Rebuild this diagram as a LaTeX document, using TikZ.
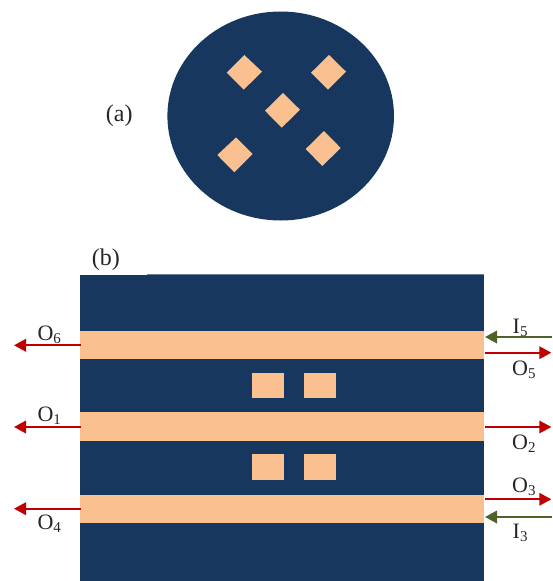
\documentclass[tikz,border=0pt]{standalone}
\usepackage{fontspec}
\setmainfont{Liberation Serif}
\usetikzlibrary{arrows.meta}
\definecolor{navy}{HTML}{17375E}
\definecolor{peach}{HTML}{FAC090}
\definecolor{redarr}{HTML}{C00000}
\definecolor{greenarr}{HTML}{4F6228}
\newcommand{\portsub}[1]{\raisebox{-3pt}{\fontsize{15}{16}\selectfont #1}}
\tikzset{
  x=1pt,y=-1pt,
  body/.style={fill=navy,draw=none},
  metal/.style={fill=peach,draw=none},
  redline/.style={draw=redarr,line width=2pt,-{Triangle[length=12pt,width=12.5pt]}},
  greenline/.style={draw=greenarr,line width=2pt,-{Triangle[length=12pt,width=12.5pt]}},
  lab/.style={font=\fontsize{24}{26}\selectfont,inner sep=0pt,text=black!85,anchor=base west},
  portlab/.style={font=\fontsize{22}{24}\selectfont,inner sep=0pt,text=black!85,anchor=base west}
}
\begin{document}
\begin{tikzpicture}
\useasboundingbox (0,0) rectangle (553,581);
% (a)
\fill[body] (280.7,116) ellipse [x radius=113.3,y radius=104.5];
\fill[metal] (244.3,55) -- (262,71.7) -- (243.7,89.7) -- (226.7,72.7) -- cycle;
\fill[metal] (329,55) -- (346,71.7) -- (328,89.7) -- (311,72.7) -- cycle;
\fill[metal] (283,93) -- (300,109.7) -- (281.7,127.7) -- (265,110.7) -- cycle;
\fill[metal] (236,137.5) -- (252.7,154) -- (234.3,172.3) -- (217.3,155) -- cycle;
\fill[metal] (324,131) -- (340.7,148) -- (322.3,166) -- (305.7,149) -- cycle;
\node[lab] (la) at (105.7,121.7) {(a)};
% (b)
\node[lab] (lb) at (91.7,265) {(b)};
\fill[body] (80,275) rectangle (484,581);
\draw[navy!65,line width=0.7pt] (147,274.4) -- (484,274.4);
\fill[metal] (80,331) rectangle (484,359);
\fill[metal] (80,412) rectangle (484,440.7);
\fill[metal] (80,494.7) rectangle (484,523.3);
\fill[metal] (252.3,372.7) rectangle (284,398);
\fill[metal] (304.3,372.7) rectangle (336,398);
\fill[metal] (252.3,454.3) rectangle (284,480);
\fill[metal] (304.3,454.3) rectangle (336,480);
% ports
\coordinate (w6) at (80.5,345.3); \coordinate (x6) at (14,345.3);
\coordinate (w1) at (80.5,427); \coordinate (x1) at (14,427);
\coordinate (w4) at (80.5,508.7); \coordinate (x4) at (14,508.7);
\coordinate (e5) at (485,352.7); \coordinate (y5) at (551.3,352.7);
\coordinate (e2) at (485,427); \coordinate (y2) at (551.3,427);
\coordinate (e3) at (485,499.3); \coordinate (y3) at (551.3,499.3);
\coordinate (i5a) at (552,337); \coordinate (i5b) at (485,337);
\coordinate (i3a) at (552,517); \coordinate (i3b) at (485,517);
\draw[redline] (w6) -- (x6);
\draw[redline] (w1) -- (x1);
\draw[redline] (w4) -- (x4);
\draw[redline] (e5) -- (y5);
\draw[redline] (e2) -- (y2);
\draw[redline] (e3) -- (y3);
\draw[greenline] (i5a) -- (i5b);
\draw[greenline] (i3a) -- (i3b);
\node[portlab] (o6) at (37.3,340.7) {O\portsub{6}};
\node[portlab] (o1) at (37.3,421.7) {O\portsub{1}};
\node[portlab] (o4) at (37.3,529.7) {O\portsub{4}};
\node[portlab] (i5) at (512.5,333.3) {I\portsub{5}};
\node[portlab] (o5) at (512,375.3) {O\portsub{5}};
\node[portlab] (o2) at (512,449.3) {O\portsub{2}};
\node[portlab] (o3) at (512,492.7) {O\portsub{3}};
\node[portlab] (i3) at (512.5,538.7) {I\portsub{3}};
\end{tikzpicture}
\end{document}
